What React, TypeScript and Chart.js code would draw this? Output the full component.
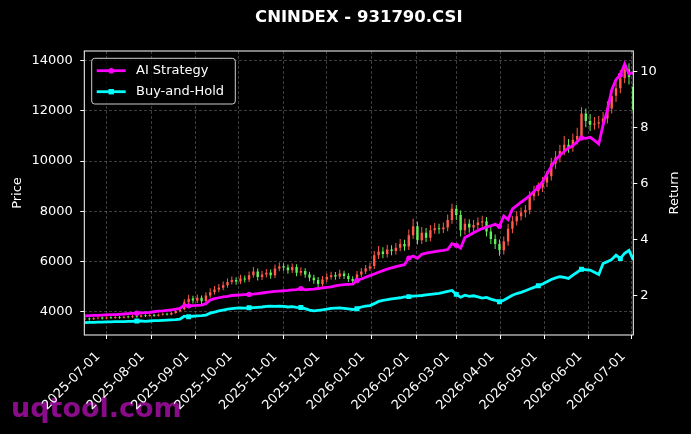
import { useEffect, useRef } from 'react';
import { Chart, registerables } from 'chart.js';

Chart.register(...registerables);

const FONT = "'DejaVu Sans', sans-serif";

// sample dates: every 3 calendar days starting here
const startDate = '2025-06-16';
const stepDays = 3;

const monthTicks = [
  '2025-07-01', '2025-08-01', '2025-09-01', '2025-10-01', '2025-11-01', '2025-12-01', '2026-01-01',
  '2026-02-01', '2026-03-01', '2026-04-01', '2026-05-01', '2026-06-01', '2026-07-01',
];
const priceTicks = [4000, 6000, 8000, 10000, 12000, 14000];
const returnTicks = [2, 4, 6, 8, 10];

const opens = [
  3700, 3730, 3700, 3740, 3770, 3730, 3780, 3750, 3790, 3760,
  3810, 3780, 3830, 3800, 3860, 3830, 3880, 3840, 3880, 3920,
  3890, 3950, 4020, 4100, 4380, 4530, 4440, 4560, 4430, 4650,
  4790, 4880, 4950, 5050, 5180, 5260, 5200, 5320, 5280, 5450,
  5600, 5380, 5480, 5560, 5450, 5720, 5810, 5760, 5650, 5780,
  5550, 5620, 5480, 5350, 5260, 5100, 5280, 5380, 5460, 5400,
  5520, 5420, 5300, 5220, 5480, 5600, 5720, 5820, 6250, 6400,
  6300, 6480, 6420, 6550, 6700, 6600, 7050, 7400, 6850, 7150,
  6950, 7250, 7320, 7280, 7350, 7650, 8100, 7850, 7250, 7500,
  7350, 7450, 7550, 7600, 7200, 6900, 6700, 6450, 6800, 7300,
  7600, 7800, 7950, 8050, 8600, 8800, 8950, 9150, 9400, 9900,
  10150, 10400, 10650, 10550, 10850, 11000, 11900, 11600, 11450, 11500,
  11550, 11700, 12100, 12600, 12900, 13300, 13650, 12950,
];
const highs = [
  3780, 3770, 3790, 3810, 3810, 3820, 3820, 3840, 3830, 3850,
  3850, 3870, 3870, 3900, 3900, 3920, 3920, 3930, 3970, 3960,
  4000, 4080, 4150, 4500, 4680, 4640, 4690, 4650, 4780, 4930,
  5020, 5100, 5200, 5320, 5400, 5370, 5470, 5440, 5600, 5780,
  5720, 5630, 5700, 5680, 5880, 5960, 5930, 5880, 5920, 5890,
  5770, 5730, 5590, 5470, 5380, 5420, 5520, 5590, 5580, 5670,
  5630, 5530, 5410, 5620, 5740, 5860, 5950, 6420, 6620, 6570,
  6670, 6650, 6740, 6900, 6870, 7270, 7700, 7580, 7370, 7330,
  7450, 7530, 7500, 7550, 7870, 8300, 8250, 8030, 7710, 7680,
  7650, 7750, 7820, 7770, 7380, 7080, 6880, 7000, 7500, 7800,
  8000, 8150, 8250, 8800, 9020, 9150, 9370, 9610, 10130, 10400,
  10650, 11000, 10880, 11100, 11330, 12150, 12100, 11880, 11760, 11800,
  11960, 12380, 12930, 13180, 13630, 13950, 13900, 13100,
];
const lows = [
  3660, 3650, 3670, 3700, 3690, 3700, 3710, 3720, 3720, 3730,
  3740, 3750, 3760, 3770, 3790, 3800, 3800, 3810, 3850, 3850,
  3860, 3920, 3980, 4060, 4300, 4330, 4350, 4300, 4340, 4560,
  4690, 4780, 4850, 4950, 5080, 5070, 5100, 5160, 5180, 5350,
  5240, 5260, 5360, 5310, 5340, 5610, 5630, 5510, 5540, 5410,
  5430, 5350, 5210, 5110, 4960, 5000, 5180, 5280, 5270, 5300,
  5300, 5180, 5080, 5120, 5380, 5500, 5620, 5700, 6100, 6130,
  6160, 6250, 6280, 6410, 6430, 6460, 6900, 6680, 6700, 6780,
  6810, 7110, 7110, 7140, 7210, 7500, 7650, 7000, 7070, 7150,
  7170, 7280, 7380, 7000, 6700, 6500, 6230, 6280, 6630, 7130,
  7430, 7630, 7750, 7880, 8430, 8610, 8770, 8970, 9230, 9700,
  9950, 10230, 10330, 10370, 10650, 10830, 11350, 11200, 11250, 11300,
  11370, 11500, 11900, 12350, 12700, 13100, 13050, 11900,
];
const closes = [
  3720, 3700, 3740, 3760, 3730, 3770, 3750, 3790, 3760, 3800,
  3780, 3820, 3800, 3850, 3830, 3870, 3840, 3880, 3910, 3890,
  3950, 4020, 4080, 4380, 4520, 4450, 4560, 4420, 4650, 4780,
  4880, 4950, 5050, 5180, 5250, 5200, 5320, 5280, 5450, 5600,
  5380, 5480, 5550, 5450, 5720, 5800, 5760, 5650, 5780, 5550,
  5620, 5480, 5350, 5250, 5100, 5280, 5380, 5450, 5400, 5520,
  5420, 5300, 5220, 5480, 5600, 5720, 5800, 6250, 6400, 6300,
  6480, 6420, 6550, 6700, 6600, 7050, 7400, 6850, 7150, 6950,
  7250, 7320, 7280, 7350, 7650, 8100, 7850, 7250, 7500, 7350,
  7450, 7550, 7600, 7200, 6900, 6700, 6450, 6800, 7300, 7600,
  7800, 7950, 8050, 8600, 8800, 8950, 9150, 9400, 9900, 10150,
  10400, 10650, 10550, 10850, 11000, 11900, 11600, 11450, 11500, 11550,
  11700, 12100, 12600, 12900, 13300, 13650, 13350, 12050,
];

const aiStrategy = [
  1.28, 1.29, 1.30, 1.30, 1.31, 1.32, 1.33, 1.33, 1.34, 1.35,
  1.36, 1.37, 1.38, 1.39, 1.40, 1.41, 1.43, 1.45, 1.46, 1.48,
  1.50, 1.52, 1.55, 1.67, 1.64, 1.65, 1.66, 1.67, 1.72, 1.85,
  1.90, 1.93, 1.96, 1.98, 2.01, 2.02, 2.03, 2.04, 2.05, 2.06,
  2.08, 2.10, 2.12, 2.14, 2.16, 2.17, 2.18, 2.19, 2.21, 2.22,
  2.26, 2.21, 2.23, 2.24, 2.26, 2.28, 2.30, 2.32, 2.35, 2.38,
  2.40, 2.41, 2.42, 2.55, 2.60, 2.66, 2.72, 2.78, 2.84, 2.90,
  2.95, 3.00, 3.04, 3.08, 3.11, 3.35, 3.42, 3.34, 3.48, 3.52,
  3.55, 3.58, 3.60, 3.62, 3.65, 3.86, 3.80, 3.70, 4.08, 4.16,
  4.25, 4.33, 4.40, 4.45, 4.50, 4.55, 4.48, 4.85, 4.72, 5.10,
  5.22, 5.34, 5.45, 5.58, 5.72, 5.88, 6.08, 6.35, 6.62, 6.85,
  7.02, 7.15, 7.28, 7.36, 7.50, 7.64, 7.62, 7.66, 7.55, 7.42,
  8.10, 8.62, 9.35, 9.72, 9.88, 10.28, 9.92, 9.96,
];
const buyAndHold = [
  1.04, 1.05, 1.05, 1.06, 1.06, 1.07, 1.07, 1.08, 1.08, 1.08,
  1.09, 1.09, 1.10, 1.10, 1.09, 1.10, 1.11, 1.11, 1.12, 1.13,
  1.14, 1.15, 1.17, 1.27, 1.25, 1.27, 1.28, 1.29, 1.31, 1.38,
  1.42, 1.46, 1.49, 1.52, 1.54, 1.56, 1.57, 1.56, 1.57, 1.58,
  1.59, 1.60, 1.62, 1.63, 1.62, 1.63, 1.62, 1.60, 1.61, 1.59,
  1.58, 1.54, 1.49, 1.46, 1.48, 1.50, 1.52, 1.55, 1.56, 1.57,
  1.55, 1.53, 1.51, 1.54, 1.60, 1.63, 1.65, 1.72, 1.80, 1.84,
  1.86, 1.89, 1.91, 1.93, 1.96, 1.97, 1.99, 2.00, 2.01, 2.03,
  2.05, 2.07, 2.09, 2.12, 2.16, 2.19, 2.05, 1.95, 2.02, 1.98,
  2.00, 1.96, 1.92, 1.94, 1.88, 1.84, 1.79, 1.84, 1.93, 2.02,
  2.08, 2.12, 2.18, 2.24, 2.30, 2.36, 2.42, 2.50, 2.58, 2.64,
  2.68, 2.66, 2.62, 2.74, 2.84, 2.95, 2.93, 2.92, 2.84, 2.76,
  3.15, 3.22, 3.30, 3.45, 3.33, 3.52, 3.62, 3.28,
];
// sample indices that carry a marker on the return lines
const markerIdx = [12, 24, 38, 50, 63, 75, 86, 96, 105, 115, 124];

const upColor = '#ff5a4a';
const downColor = '#62f05a';

const dayOf = (s: string) =>
  (Date.parse(s + 'T00:00:00Z') - Date.parse('2025-07-01T00:00:00Z')) / 86400000;
const sampleDays = closes.map((_, i) => dayOf(startDate) + i * stepDays);
const candleColor = (ctx: any) =>
  closes[ctx.dataIndex] >= opens[ctx.dataIndex] ? upColor : downColor;

const bgPlugin = {
  id: 'bgWatermark',
  beforeDraw(chart: any) {
    const { ctx, width, height } = chart;
    ctx.save();
    ctx.fillStyle = '#000';
    ctx.fillRect(0, 0, width, height);
    ctx.font = `bold 27px ${FONT}`;
    ctx.fillStyle = '#8a0c8a';
    ctx.textBaseline = 'alphabetic';
    ctx.fillText('uqtool.com', 11, 416.5);
    ctx.restore();
  },
};

const framePlugin = {
  id: 'frameLegend',
  afterDraw(chart: any) {
    const { ctx, chartArea } = chart;
    ctx.save();
    // axes frame
    ctx.strokeStyle = '#fff';
    ctx.lineWidth = 1;
    ctx.strokeRect(chartArea.left, chartArea.top, chartArea.width, chartArea.height);

    // right axis title
    ctx.translate(chart.width - 16.5, (chartArea.top + chartArea.bottom) / 2);
    ctx.rotate(-Math.PI / 2);
    ctx.fillStyle = '#fff';
    ctx.font = `13px ${FONT}`;
    ctx.textAlign = 'center';
    ctx.textBaseline = 'middle';
    ctx.fillText('Return', 0, 0);
    ctx.restore();

    // legend box
    ctx.save();
    const left = chartArea.left + 7.4;
    const top = chartArea.top + 7.3;
    ctx.beginPath();
    ctx.roundRect(left, top, 143.6, 45.7, 3);
    ctx.fillStyle = 'rgba(0,0,0,0.8)';
    ctx.fill();
    ctx.strokeStyle = '#cccccc';
    ctx.lineWidth = 1;
    ctx.stroke();
    const items = chart.data.datasets.filter((ds: any) => ds.type === 'line');
    items.forEach((ds: any, k: number) => {
      const cy = top + 12.4 + k * 21;
      ctx.strokeStyle = ds.borderColor;
      ctx.lineWidth = 2.8;
      ctx.beginPath();
      ctx.moveTo(left + 5, cy);
      ctx.lineTo(left + 34, cy);
      ctx.stroke();
      ctx.fillStyle = ds.borderColor;
      if (ds.pointStyle === 'rect') {
        ctx.fillRect(left + 19.5 - 2.7, cy - 2.7, 5.4, 5.4);
      } else {
        ctx.beginPath();
        ctx.arc(left + 19.5, cy, 2.8, 0, Math.PI * 2);
        ctx.fill();
      }
      ctx.fillStyle = '#fff';
      ctx.font = `13px ${FONT}`;
      ctx.textAlign = 'left';
      ctx.textBaseline = 'middle';
      ctx.fillText(ds.label, left + 44.3, cy);
    });
    ctx.restore();
  },
};

const gridColor = 'rgba(255,255,255,0.3)';

export default function App() {
  const chartRef = useRef<HTMLCanvasElement>(null);
  const chartInstance = useRef<Chart | null>(null);

  useEffect(() => {
    if (!chartRef.current) return;
    if (chartInstance.current) chartInstance.current.destroy();

    Chart.defaults.font.family = FONT;
    Chart.defaults.color = '#fff';

    chartInstance.current = new Chart(chartRef.current, {
      type: 'line',
      data: {
        datasets: [
          {
            type: 'line',
            label: 'AI Strategy',
            data: sampleDays.map((d, i) => ({ x: d, y: aiStrategy[i] })),
            yAxisID: 'y1',
            borderColor: '#ff00ff',
            backgroundColor: '#ff00ff',
            borderWidth: 2.8,
            tension: 0,
            pointStyle: 'circle',
            pointRadius: (ctx: any) => (markerIdx.includes(ctx.dataIndex) ? 2.6 : 0),
            pointBorderWidth: 0,
            order: 0,
          },
          {
            type: 'line',
            label: 'Buy-and-Hold',
            data: sampleDays.map((d, i) => ({ x: d, y: buyAndHold[i] })),
            yAxisID: 'y1',
            borderColor: '#00ffff',
            backgroundColor: '#00ffff',
            borderWidth: 2.8,
            tension: 0,
            pointStyle: 'rect',
            pointRadius: (ctx: any) => (markerIdx.includes(ctx.dataIndex) ? 3.5 : 0),
            pointBorderWidth: 0,
            order: 0,
          },
          {
            type: 'bar',
            label: 'wick',
            data: sampleDays.map((d, i) => ({ x: d, y: [lows[i], highs[i]] })),
            yAxisID: 'y',
            backgroundColor: candleColor,
            borderWidth: 0,
            grouped: false,
            maxBarThickness: 1,
            order: 2,
          },
          {
            type: 'bar',
            label: 'body',
            data: sampleDays.map((d, i) => ({ x: d, y: [opens[i], closes[i]] })),
            yAxisID: 'y',
            backgroundColor: candleColor,
            borderWidth: 0,
            grouped: false,
            maxBarThickness: 2.4,
            order: 1,
          },
        ] as any,
      },
      options: {
        animation: false,
        responsive: true,
        maintainAspectRatio: false,
        layout: { padding: 0 },
        events: [],
        plugins: {
          legend: { display: false },
          tooltip: { enabled: false },
          title: {
            display: true,
            fullSize: false,
            text: 'CNINDEX - 931790.CSI',
            color: '#fff',
            font: { family: FONT, size: 16.5, weight: 'bold' },
            padding: { top: 8, bottom: 23.2 },
          },
        },
        scales: {
          x: {
            type: 'linear',
            min: -15.5,
            max: 366,
            offset: false,
            afterBuildTicks: (s: any) => {
              s.ticks = monthTicks.map((m) => ({ value: dayOf(m) }));
            },
            afterFit: (s: any) => {
              s.height = 99;
            },
            ticks: {
              color: '#fff',
              font: { family: FONT, size: 13 },
              minRotation: 45,
              maxRotation: 45,
              autoSkip: false,
              padding: 10,
              labelOffset: -8.5,
              callback: (_v: any, i: number) => monthTicks[i],
            },
            grid: {
              color: gridColor,
              lineWidth: 0.8,
              tickColor: '#fff',
              tickLength: 4,
              tickWidth: 1,
              offset: false,
            },
            border: { display: false, dash: [3, 2] },
          },
          y: {
            type: 'linear',
            position: 'left',
            min: 3072,
            max: 14386,
            afterBuildTicks: (s: any) => {
              s.ticks = priceTicks.map((v) => ({ value: v }));
            },
            afterFit: (s: any) => {
              s.width = 84.3;
            },
            ticks: {
              color: '#fff',
              font: { family: FONT, size: 13 },
              padding: 7.5,
              callback: (v: any) => String(v),
            },
            title: {
              display: true,
              text: 'Price',
              color: '#fff',
              font: { family: FONT, size: 13 },
              padding: { top: 10, bottom: 0 },
            },
            grid: {
              color: gridColor,
              lineWidth: 0.8,
              tickColor: '#fff',
              tickLength: 4,
              tickWidth: 1,
            },
            border: { display: false, dash: [3, 2] },
          },
          y1: {
            type: 'linear',
            position: 'right',
            min: 0.6,
            max: 10.74,
            afterBuildTicks: (s: any) => {
              s.ticks = returnTicks.map((v) => ({ value: v }));
            },
            afterFit: (s: any) => {
              s.width = 57.7;
            },
            ticks: {
              color: '#fff',
              font: { family: FONT, size: 13 },
              padding: 3,
              callback: (v: any) => String(v),
            },
            grid: {
              drawOnChartArea: false,
              tickColor: '#fff',
              tickLength: 4,
              tickWidth: 1,
            },
            border: { display: false },
          },
        },
      } as any,
      plugins: [bgPlugin, framePlugin],
    });

    return () => {
      if (chartInstance.current) {
        chartInstance.current.destroy();
        chartInstance.current = null;
      }
    };
  }, []);

  return (
    <div style={{ position: 'fixed', left: 0, top: 0, width: 691, height: 434, background: '#000' }}>
      <canvas ref={chartRef}></canvas>
    </div>
  );
}
